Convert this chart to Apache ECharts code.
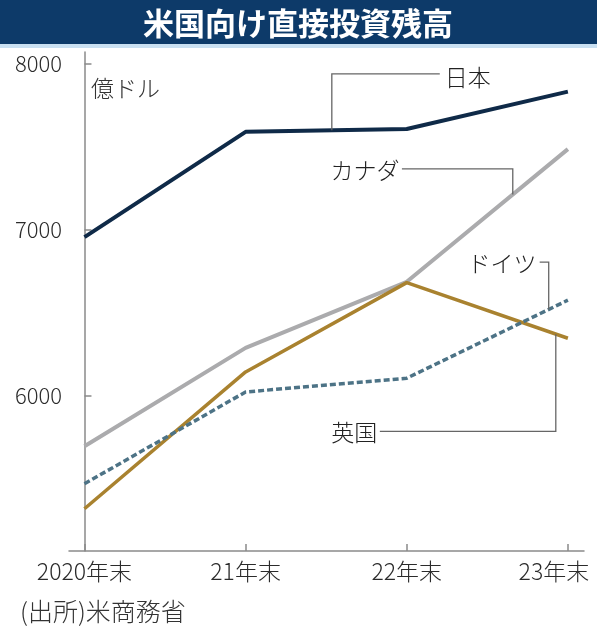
<!DOCTYPE html>
<html>
<head>
<meta charset="utf-8">
<script src="https://cdn.jsdelivr.net/npm/echarts@6/dist/echarts.min.js"></script>
<style>
  html, body { margin: 0; padding: 0; background: #fff; }
  #main { width: 597px; height: 628px; }
</style>
</head>
<body>
<div id="main"></div>
<script>
var years = ['2020年末', '21年末', '22年末', '23年末'];
var yTicks = [6000, 7000, 8000];

var japan   = [6955, 7590, 7607, 7833];
var canada  = [5692, 6286, 6685, 7486];
var uk      = [5315, 6141, 6680, 6344];
var germany = [5466, 6020, 6103, 6574];

// leader lines: [x index, value] points, label anchor
var notes = [
    { text: '日本',   pts: [[2.205, 7940], [1.535, 7940], [1.535, 7599]], at: [2.236, 7921], align: 'left' },
    { text: 'カナダ', pts: [[1.970, 7366], [2.658, 7366], [2.658, 7212]], at: [1.955, 7360], align: 'right' },
    { text: 'ドイツ', pts: [[2.825, 6804], [2.881, 6804], [2.881, 6518]], at: [2.805, 6798], align: 'right' },
    { text: '英国',   pts: [[1.833, 5782], [2.925, 5782], [2.925, 6369]], at: [1.817, 5776], align: 'right' }
];

var FONT = '"Noto Sans CJK JP", "Noto Sans", sans-serif';

var toPairs = function (arr) {
    var out = [];
    for (var i = 0; i < arr.length; i++) {
        out.push([i, arr[i]]);
    }
    return out;
};

var lineSeries = function (name, arr, color, width, type) {
    return {
        name: name,
        type: 'line',
        data: toPairs(arr),
        symbol: 'none',
        lineStyle: { color: color, width: width, type: type || 'solid' },
        z: 3
    };
};

var chart = echarts.init(document.getElementById('main'));

var option = {
    animation: false,
    textStyle: { fontFamily: FONT },
    grid: { left: 69, right: 13, top: 52, bottom: 77, containLabel: false, outerBoundsMode: 'none' },
    xAxis: {
        type: 'value',
        min: -0.096,
        max: 3.1,
        axisLine: { show: true, lineStyle: { color: '#8a8a8a', width: 1.5 } },
        axisTick: { show: true, inside: true, length: 7, customValues: [0, 1, 2, 3], lineStyle: { color: '#8a8a8a', width: 1.5 } },
        axisLabel: {
            customValues: [0, 1, 2, 3],
            formatter: function (v) {
                var i = Math.round(v);
                // last label is pushed left so it stays inside the picture
                return i === years.length - 1 ? '{e|' + years[i] + '}' : years[i];
            },
            rich: {
                e: { fontSize: 23, fontWeight: 300, color: '#2b2b2b', fontFamily: FONT, padding: [0, 28, 0, 0] }
            },
            fontSize: 23,
            fontWeight: 300,
            color: '#2b2b2b',
            margin: 9,
            hideOverlap: false,
            fontFamily: FONT
        },
        splitLine: { show: false }
    },
    yAxis: {
        type: 'value',
        min: 5060,
        max: 8072,
        axisLine: { show: true, lineStyle: { color: '#8a8a8a', width: 1.5 } },
        axisTick: { show: true, inside: true, length: 7, customValues: yTicks, lineStyle: { color: '#8a8a8a', width: 1.5 } },
        axisLabel: {
            customValues: yTicks,
            formatter: function (v) { return String(v); },
            fontSize: 22,
            fontWeight: 300,
            color: '#2b2b2b',
            margin: 7,
            fontFamily: FONT
        },
        splitLine: { show: false }
    },
    series: [
        lineSeries('カナダ', canada, '#ababad', 4),
        lineSeries('英国', uk, '#a9822f', 3.5),
        lineSeries('ドイツ', germany, '#4d7386', 3.5, [6, 3]),
        lineSeries('日本', japan, '#0f2a48', 4)
    ]
};

chart.setOption(option);

// annotations placed from data coordinates
var gfx = [
    { type: 'rect', shape: { x: 0, y: 0, width: 597, height: 44 }, style: { fill: '#0d3a69' }, z: 10 },
    { type: 'rect', shape: { x: 0, y: 44, width: 597, height: 4 }, style: { fill: '#c9e0f2' }, z: 10 },
    {
        type: 'text', x: 298, y: 23, z: 11,
        style: { text: '米国向け直接投資残高', fill: '#fff', font: 'bold 31px ' + FONT, align: 'center', verticalAlign: 'middle' }
    },
    {
        type: 'text', x: 91, y: 88, z: 11,
        style: { text: '億ドル', fill: '#333', font: '300 23px ' + FONT, align: 'left', verticalAlign: 'middle' }
    },
    {
        type: 'text', x: 20, y: 611, z: 11,
        style: { text: '(出所)米商務省', fill: '#333', font: '300 25px ' + FONT, align: 'left', verticalAlign: 'middle' }
    }
];

for (var n = 0; n < notes.length; n++) {
    var pts = [];
    for (var k = 0; k < notes[n].pts.length; k++) {
        pts.push(chart.convertToPixel({ gridIndex: 0 }, notes[n].pts[k]));
    }
    gfx.push({
        type: 'polyline', z: 5,
        shape: { points: pts },
        style: { stroke: '#666', lineWidth: 1.3, fill: null }
    });
    var p = chart.convertToPixel({ gridIndex: 0 }, notes[n].at);
    gfx.push({
        type: 'text', x: p[0], y: p[1], z: 6,
        style: { text: notes[n].text, fill: '#222', font: '300 23px ' + FONT, align: notes[n].align, verticalAlign: 'middle' }
    });
}

chart.setOption({ graphic: gfx });
</script>
</body>
</html>
